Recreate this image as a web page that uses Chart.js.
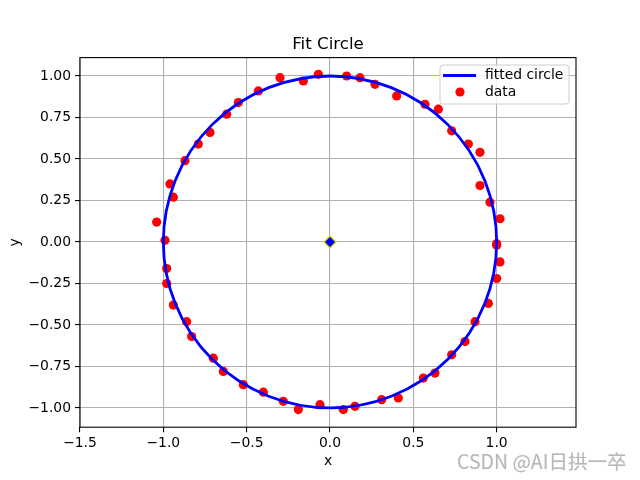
<!DOCTYPE html>
<html>
<head>
<meta charset="utf-8">
<script src="https://cdn.jsdelivr.net/npm/chart.js@4.4.0/dist/chart.umd.min.js"></script>
<style>
  html, body { margin: 0; padding: 0; background: #fff; }
  #wrap { position: relative; width: 640px; height: 480px; }
  #watermark {
    position: absolute; left: 457px; top: 446px;
    font: 19.5px "Noto Sans CJK SC", "Noto Sans", sans-serif;
    color: #b8b8b8; white-space: nowrap;
    text-shadow: 0 0 1px #e0e0e0;
  }
</style>
</head>
<body>
<div id="wrap">
  <canvas id="chart" width="640" height="480"></canvas>
  <div id="watermark">CSDN @AI日拱一卒</div>
</div>
<script>
// tick values
const xTicks = [-1.5, -1.0, -0.5, 0.0, 0.5, 1.0];
const yTicks = [-1.0, -0.75, -0.5, -0.25, 0.0, 0.25, 0.5, 0.75, 1.0];

// scattered data
const dataX = [
  -0.07, -0.16, -0.30, -0.43, -0.55, -0.62, -0.72, -0.79, -0.87, -0.96,
  -0.94, -1.04, -0.99, 0.10, 0.18, 0.27, 0.40, 0.57, 0.65, 0.73,
  0.83, 0.90, 0.90, 0.96, 1.02, 1.00, 1.00, 1.02, 1.00, 0.95,
  0.87, 0.81, 0.73, 0.63, 0.56, 0.41, 0.31, 0.15, 0.08, -0.06,
  -0.98, -0.98, -0.94, -0.86, -0.83, -0.70, -0.64, -0.52, -0.40, -0.28,
  -0.19
];
const dataY = [
  1.01, 0.97, 0.99, 0.91, 0.84, 0.77, 0.66, 0.59, 0.49, 0.35,
  0.27, 0.12, 0.01, 1.00, 0.99, 0.95, 0.88, 0.83, 0.80, 0.67,
  0.59, 0.54, 0.34, 0.24, 0.14, -0.01, -0.02, -0.12, -0.22, -0.37,
  -0.48, -0.60, -0.68, -0.79, -0.82, -0.94, -0.95, -0.99, -1.01, -0.98,
  -0.16, -0.25, -0.38, -0.48, -0.57, -0.70, -0.78, -0.86, -0.905, -0.96,
  -1.01
];

// fitted circle and its centre
const circleCx = 0.0;
const circleCy = 0.0;
const circleR = 1.0;

const points = dataX.map((x, i) => ({ x: x, y: dataY[i] }));

const FONT = 'DejaVu Sans';
const fmt = (v, d) => (v < 0 ? '\u2212' : '') + Math.abs(v).toFixed(d);

const circlePlugin = {
  id: 'fitCircle',
  afterDatasetsDraw(chart) {
    const { ctx, scales: { x, y }, chartArea } = chart;
    const px = x.getPixelForValue(circleCx);
    const py = y.getPixelForValue(circleCy);
    const rx = Math.abs(x.getPixelForValue(circleCx + circleR) - px);
    const ry = Math.abs(y.getPixelForValue(circleCy + circleR) - py);
    ctx.save();
    ctx.beginPath();
    ctx.rect(chartArea.left, chartArea.top, chartArea.width, chartArea.height);
    ctx.clip();
    ctx.beginPath();
    ctx.ellipse(px, py, rx, ry, 0, 0, Math.PI * 2);
    ctx.strokeStyle = '#0000ff';
    ctx.lineWidth = 2.8;
    ctx.stroke();
    // centre marker on top of the line
    const r = 6;
    ctx.beginPath();
    ctx.moveTo(px, py - r);
    ctx.lineTo(px + r, py);
    ctx.lineTo(px, py + r);
    ctx.lineTo(px - r, py);
    ctx.closePath();
    ctx.fillStyle = '#0000ff';
    ctx.fill();
    ctx.strokeStyle = '#d8d800';
    ctx.lineWidth = 1.4;
    ctx.stroke();
    ctx.restore();
  }
};

const decorPlugin = {
  id: 'decor',
  afterDraw(chart) {
    const { ctx, chartArea: a } = chart;
    ctx.save();
    // frame
    ctx.strokeStyle = '#000';
    ctx.lineWidth = 1.1;
    ctx.strokeRect(a.left, a.top, a.right - a.left, a.bottom - a.top);

    // title and axis labels
    ctx.fillStyle = '#000';
    ctx.textAlign = 'center';
    ctx.textBaseline = 'alphabetic';
    ctx.font = '16.7px "' + FONT + '"';
    ctx.fillText('Fit Circle', (a.left + a.right) / 2, 49);
    ctx.font = '13.9px "' + FONT + '"';
    ctx.textBaseline = 'middle';
    ctx.fillText('x', (a.left + a.right) / 2, 461);
    ctx.save();
    ctx.translate(15, (a.top + a.bottom) / 2);
    ctx.rotate(-Math.PI / 2);
    ctx.fillText('y', 0, 0);
    ctx.restore();

    // legend
    const lx = 440, ly = 65, lw = 129, lh = 39, rr = 3;
    ctx.beginPath();
    ctx.moveTo(lx + rr, ly);
    ctx.arcTo(lx + lw, ly, lx + lw, ly + lh, rr);
    ctx.arcTo(lx + lw, ly + lh, lx, ly + lh, rr);
    ctx.arcTo(lx, ly + lh, lx, ly, rr);
    ctx.arcTo(lx, ly, lx + lw, ly, rr);
    ctx.closePath();
    ctx.fillStyle = 'rgba(255,255,255,0.8)';
    ctx.fill();
    ctx.strokeStyle = '#cccccc';
    ctx.lineWidth = 1;
    ctx.stroke();

    ctx.beginPath();
    ctx.moveTo(443, 75.5);
    ctx.lineTo(476, 75.5);
    ctx.strokeStyle = '#0000ff';
    ctx.lineWidth = 2.8;
    ctx.stroke();

    ctx.beginPath();
    ctx.arc(460, 92, 4.6, 0, Math.PI * 2);
    ctx.fillStyle = '#ff0000';
    ctx.fill();

    ctx.fillStyle = '#000';
    ctx.textAlign = 'left';
    ctx.textBaseline = 'middle';
    ctx.font = '13.9px "' + FONT + '"';
    ctx.fillText('fitted circle', 485, 75.5);
    ctx.fillText('data', 485, 92);
    ctx.restore();
  }
};

new Chart(document.getElementById('chart'), {
  type: 'scatter',
  data: {
    datasets: [
      {
        label: 'data',
        data: points,
        backgroundColor: '#ff0000',
        borderWidth: 0,
        pointRadius: 4.6
      }
    ]
  },
  options: {
    responsive: false,
    animation: false,
    events: [],
    layout: { padding: { top: 57.6, right: 64, bottom: 0, left: 0 } },
    plugins: { legend: { display: false }, tooltip: { enabled: false } },
    scales: {
      x: {
        type: 'linear',
        min: -1.5,
        max: 1.476,
        afterBuildTicks: s => { s.ticks = xTicks.map(v => ({ value: v })); },
        afterFit: s => { s.height = 52.8; },
        ticks: {
          callback: v => fmt(v, 1),
          color: '#000',
          font: { family: FONT, size: 13.9 },
          padding: 3,
          maxRotation: 0
        },
        grid: { color: '#b0b0b0', lineWidth: 1.1, tickColor: '#000', tickLength: 5 },
        border: { display: false }
      },
      y: {
        type: 'linear',
        min: -1.116,
        max: 1.111,
        afterBuildTicks: s => { s.ticks = yTicks.map(v => ({ value: v })); },
        afterFit: s => { s.width = 80; },
        ticks: {
          callback: v => fmt(v, 2),
          color: '#000',
          font: { family: FONT, size: 13.9 },
          padding: 4
        },
        grid: { color: '#b0b0b0', lineWidth: 1.1, tickColor: '#000', tickLength: 5 },
        border: { display: false }
      }
    }
  },
  plugins: [circlePlugin, decorPlugin]
});
</script>
</body>
</html>
